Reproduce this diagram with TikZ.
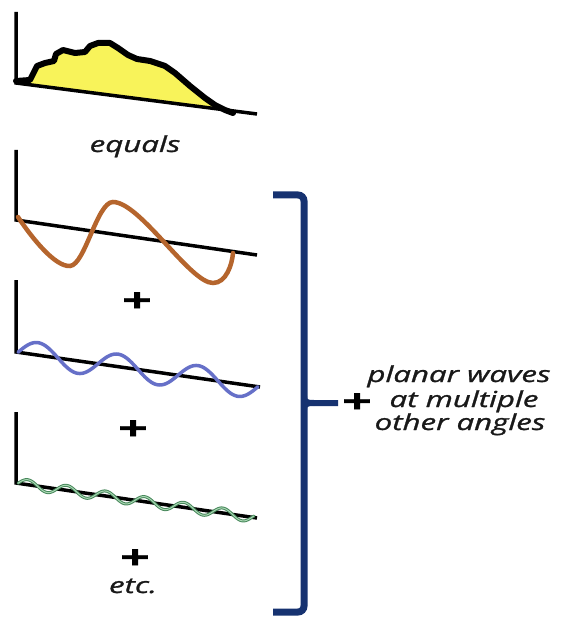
\documentclass[tikz,border=0pt]{standalone}
\usepackage{fontspec}
\newfontfamily\labfont{Open Sans}[FakeStretch=1.42,FakeBold=1.2]
\newfontfamily\plusfont{Open Sans}[FakeStretch=1.6,FakeBold=1]
\definecolor{sigyellow}{RGB}{248,243,90}
\definecolor{wavebrown}{RGB}{181,101,45}
\definecolor{waveblue}{RGB}{102,112,200}
\definecolor{wavegreen}{RGB}{70,135,90}
\definecolor{wavegreenlight}{RGB}{170,215,180}
\definecolor{navy}{RGB}{22,50,112}
\begin{document}
\begin{tikzpicture}[x=1pt,y=-1pt,
  axisline/.style={line width=3.5pt,black,line join=miter},
  lab/.style={font=\labfont\itshape\fontsize{22}{24}\selectfont,inner sep=0pt,text=black!90},
  plussign/.style={font=\plusfont\bfseries\fontsize{33}{33}\selectfont,inner sep=0pt}]
\useasboundingbox (0,0) rectangle (562,617);
% panel 1
\fill[sigyellow] (16,81) -- (30,80) -- (37,66) -- (45,63) -- (54,61) -- (56,54) -- (63,50) -- (75,53) -- (85,52) -- (90,46) -- (98,43) -- (110,43) -- (118,48) -- (128,55) -- (137,59) -- (150,61) -- (165,66) -- (175,73) -- (190,86) -- (205,98) -- (215,105) -- (220,108) -- (16,83) -- cycle;
\draw[axisline] (16,12) -- (16,83) -- (257,114);
\draw[line width=6pt,line join=round,line cap=round] (16,81) -- (30,80) -- (37,66) -- (45,63) -- (54,61) -- (56,54) -- (63,50) -- (75,53) -- (85,52) -- (90,46) -- (98,43) -- (110,43) -- (118,48) -- (128,55) -- (137,59) -- (150,61) -- (165,66) -- (175,73) -- (190,86) -- (205,98) -- (215,105) -- (225,110) -- (233,113);
\node[lab,anchor=base] (eq) at (135,152) {equals};
% panel 2
\draw[axisline] (16,150) -- (16,220) -- (257,255);
\draw[wavebrown,line width=4.5pt,line cap=round] (18,217) .. controls (32,238) and (55,267) .. (70,266) .. controls (85,265) and (97,202) .. (113,202) .. controls (140,202) and (190,283) .. (213,283) .. controls (226,283) and (232,265) .. (233,253);
\node[plussign] (p1) at (137,302) {+};
% panel 3
\draw[axisline] (16,280) -- (16,352) -- (260,387);
\draw[waveblue,line width=3.5pt,line cap=round] plot[domain=18:258,samples=160,smooth] (\x,{352+(\x-16)*0.1434-12.5*sin(4.5*(\x-18))});
\node[plussign] (p2) at (133,430) {+};
% panel 4
\draw[axisline] (16,412) -- (16,483) -- (257,518);
\draw[wavegreen,line width=3pt,line cap=round] plot[domain=18:254,samples=200,smooth] (\x,{483+(\x-16)*0.1452-5*sin(9.2308*(\x-18))});
\draw[wavegreenlight,line width=1pt,line cap=round] plot[domain=18:254,samples=200,smooth] (\x,{483+(\x-16)*0.1452-5*sin(9.2308*(\x-18))});
\node[plussign] (p3) at (135,559) {+};
\node[lab,anchor=base] (etc) at (133,593) {etc.};
% bracket
\draw[navy,line width=7pt,line cap=butt,rounded corners=6pt] (273,195) -- (304,195) -- (304,612) -- (273,612);
\draw[navy,line width=6pt,line cap=butt] (304,396) .. controls (304,402) and (306,403) .. (314,403) -- (338,403);
\draw[navy,line width=6pt,line cap=butt] (304,410) .. controls (304,404) and (306,403) .. (314,403);
\node[plussign] (bp) at (357,403) {+};
\node[lab,anchor=base] (l1) at (459,382) {planar waves};
\node[lab,anchor=base] (l2) at (464,407) {at multiple};
\node[lab,anchor=base] (l3) at (460,430) {other angles};
\end{tikzpicture}
\end{document}
